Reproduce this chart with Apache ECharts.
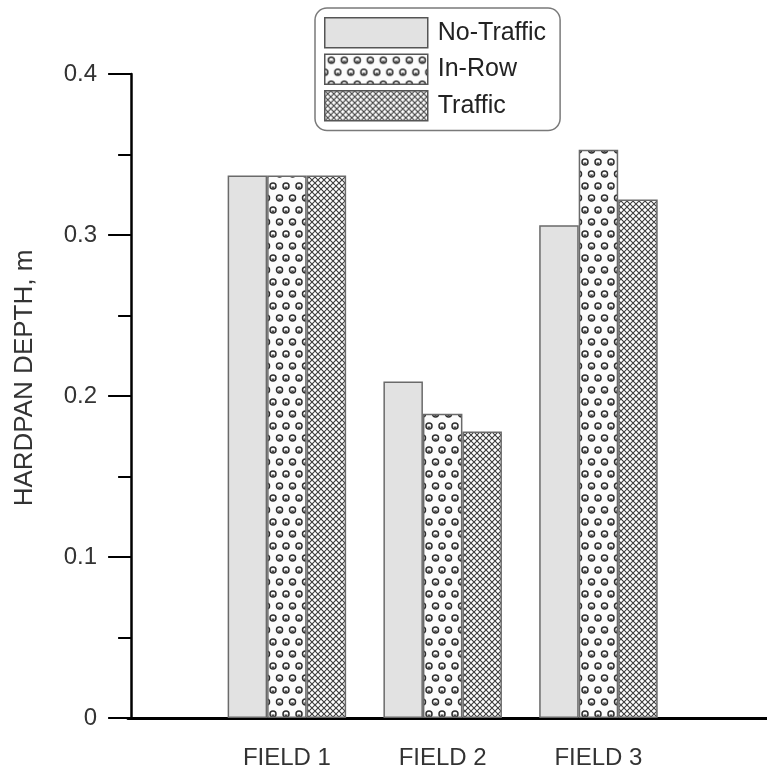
<!DOCTYPE html>
<html>
<head>
<meta charset="utf-8">
<script src="https://cdn.jsdelivr.net/npm/echarts@6/dist/echarts.min.js"></script>
<style>html,body{margin:0;padding:0;background:#fff;}#c{width:767px;height:779px;}</style>
</head>
<body>
<div id="c"></div>
<script>
var categories = ['FIELD 1', 'FIELD 2', 'FIELD 3'];
var seriesNames = ['No-Traffic', 'In-Row', 'Traffic'];
var noTraffic = [0.337, 0.209, 0.306];
var inRow = [0.337, 0.189, 0.353];
var traffic = [0.337, 0.178, 0.322];
var yTicks = [0, 0.1, 0.2, 0.3, 0.4];

function dotPattern() {
  var c = document.createElement('canvas');
  c.width = 13; c.height = 24;
  var g = c.getContext('2d');
  g.fillStyle = '#fcfcfc'; g.fillRect(0, 0, 13, 24);
  g.strokeStyle = '#2e2e2e'; g.lineWidth = 1.5;
  var pts = [[6.5, 6], [0, 18], [13, 18]];
  pts.forEach(function (p) {
    g.beginPath(); g.arc(p[0], p[1], 3.0, 0, Math.PI * 2); g.stroke();
    g.fillStyle = '#444';
    g.beginPath(); g.arc(p[0], p[1] + 0.6, 1.6, 0, Math.PI); g.fill();
  });
  return c;
}
function hatchPattern() {
  var c = document.createElement('canvas');
  c.width = 6; c.height = 6;
  var g = c.getContext('2d');
  g.fillStyle = '#ffffff'; g.fillRect(0, 0, 6, 6);
  g.strokeStyle = '#3c3c3c'; g.lineWidth = 1.1;
  g.beginPath();
  g.moveTo(-1, -1); g.lineTo(7, 7);
  g.moveTo(7, -1); g.lineTo(-1, 7);
  g.stroke();
  return c;
}

var chart = echarts.init(document.getElementById('c'), null, {renderer: 'canvas'});
var fills = ['#e2e2e2', {image: dotPattern(), repeat: 'repeat'}, {image: hatchPattern(), repeat: 'repeat'}];
var values = [noTraffic, inRow, traffic];

var font = '"Liberation Sans", Arial, sans-serif';
chart.setOption({
  animation: false,
  backgroundColor: '#ffffff',
  grid: {left: 128, right: 0, top: 74, bottom: 61, containLabel: false},
  legend: {
    orient: 'vertical',
    left: 315, top: 8,
    data: seriesNames,
    itemWidth: 103, itemHeight: 30, itemGap: 5,
    padding: [9, 14, 9, 9],
    borderColor: '#7a7a7a', borderWidth: 1.5, borderRadius: 12,
    icon: 'rect',
    itemStyle: {borderColor: '#555', borderWidth: 1.5},
    textStyle: {fontFamily: font, fontSize: 25, color: '#222', padding: [0, 0, 0, 5]}
  },
  xAxis: {
    type: 'value',
    min: -0.02, max: 4.082,
    splitLine: {show: false},
    axisLine: {show: true, onZero: false, lineStyle: {color: '#000', width: 3}},
    axisTick: {show: false},
    axisLabel: {
      customValues: [1, 2, 3],
      margin: 28,
      fontFamily: font, fontSize: 24, color: '#333',
      formatter: function (v) { return categories[Math.round(v) - 1] || ''; }
    }
  },
  yAxis: {
    type: 'value',
    min: yTicks[0], max: yTicks[yTicks.length - 1], interval: 0.1,
    name: 'HARDPAN DEPTH, m',
    nameLocation: 'middle', nameRotate: 90, nameGap: 90,
    nameTextStyle: {fontFamily: font, fontSize: 26, color: '#333', padding: [0, 0, 0, 36]},
    splitLine: {show: false},
    axisLine: {show: true, lineStyle: {color: '#000', width: 2.5}},
    axisTick: {show: true, inside: false, length: 23, lineStyle: {color: '#000', width: 2}},
    minorTick: {show: true, splitNumber: 2, length: 13, lineStyle: {color: '#000', width: 2}},
    axisLabel: {margin: 31, fontFamily: font, fontSize: 24, color: '#333',
      formatter: function (v) { return String(+v.toFixed(2)); }}
  },
  series: seriesNames.map(function (n, k) {
    return {
      name: n, type: 'bar',
      barWidth: 39.5, barGap: '0%',
      itemStyle: {color: fills[k], borderColor: '#6a6a6a', borderWidth: 1.5},
      data: values[k].map(function (v, i) { return [i + 1, v]; })
    };
  })
});
</script>
</body>
</html>
